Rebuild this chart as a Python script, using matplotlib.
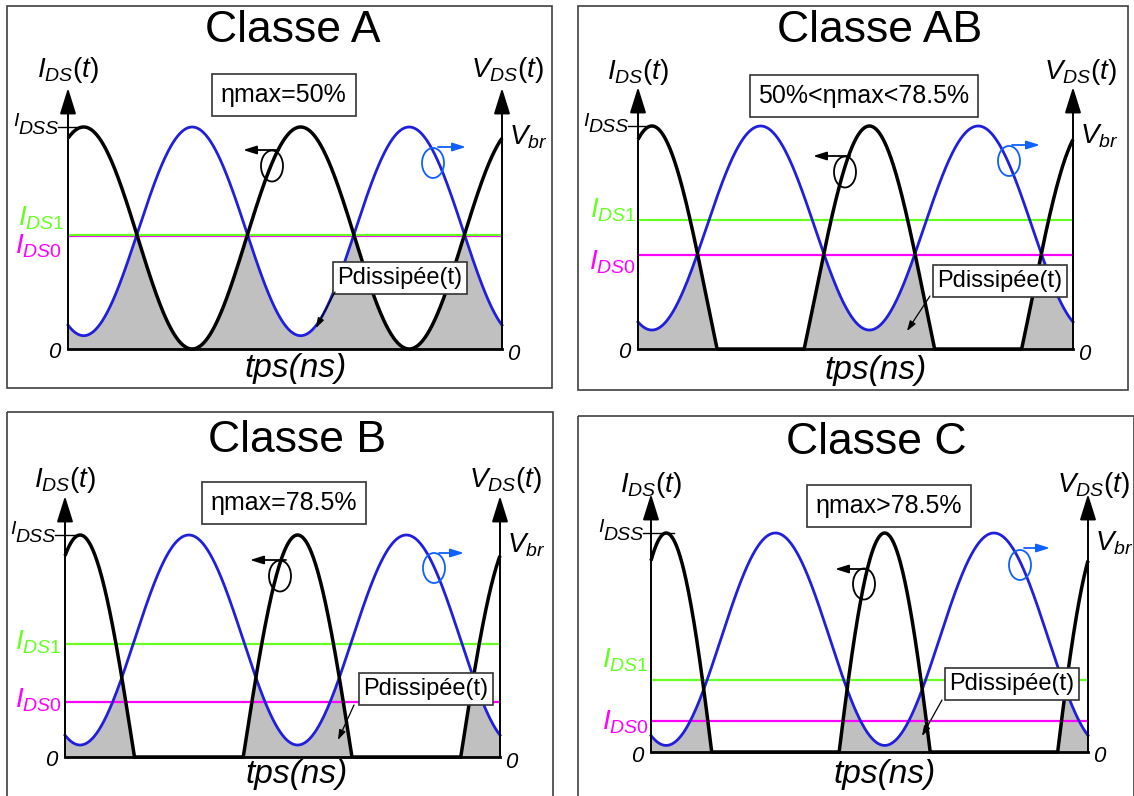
import matplotlib
matplotlib.use('Agg')
import matplotlib.pyplot as plt
from matplotlib.patches import Rectangle, Ellipse
import numpy as np

plt.rcParams['font.family'] = ['Liberation Sans', 'DejaVu Sans']
plt.rcParams['mathtext.fontset'] = 'custom'
plt.rcParams['mathtext.rm'] = 'Liberation Sans'
plt.rcParams['mathtext.it'] = 'Liberation Sans:italic'
plt.rcParams['mathtext.default'] = 'it'

W, H = 1134, 796

# one entry per amplifier class (levels normalised to I_DSS / V_br = 1)
titles = ['Classe A', 'Classe AB', 'Classe B', 'Classe C']
eta_text = ['ηmax=50%', '50%<ηmax<78.5%', 'ηmax=78.5%', 'ηmax>78.5%']
half_conduction_deg = [180, 108, 90, 75]
vds_min = [0.06, 0.085, 0.054, 0.03]
ids1_level = [0.515, 0.58, 0.51, 0.33]
ids0_level = [0.508, 0.42, 0.25, 0.14]
phase_deg = [26, 23, 25, 25]
t_deg = np.linspace(0, 720, 1441)

BLUE = '#1f1fdd'
BLUE2 = '#1060ff'
GREEN = '#66ff22'
MAGENTA = '#ff00ff'
FILL = '#c0c0c0'

# layout in image pixels
frames = [(7, 6, 552, 388), (578, 6, 1128, 390), (7, 412, 553, 800), (578, 416, 1134, 800)]
plots = [(68, 502, 349, 127), (638, 1073, 349, 126), (65, 500, 757, 535), (651, 1088, 752, 533)]
title_pos = [(293, 31), (880, 31), (297, 440), (876, 443)]
eta_pos = [(284, 95), (864, 96), (284, 503), (889, 506)]
pdis_pos = [(400, 278), (1000, 281), (426, 689), (1012, 684)]
pdis_arrow = [((335, 292), (316, 328)), ((930, 296), (907, 331)),
              ((354, 705), (338, 740)), ((942, 700), (922, 736))]
i_ell = [(272, 166), (845, 172), (280, 576), (864, 584)]
i_arr = [((279, 150), (243, 150)), ((850, 156), (813, 156)),
         ((286, 560), (250, 560)), ((868, 569), (835, 569))]
v_ell = [(433, 163), (1009, 161), (434, 568), (1020, 565)]
v_arr = [((438, 147), (466, 147)), ((1012, 145), (1040, 145)),
         ((439, 553), (464, 553)), ((1024, 548), (1050, 548))]
tps_pos = [(296, 368), (876, 370), (297, 775), (885, 775)]
ids_lbl = [(68, 70), (638, 72), (65, 480), (651, 485)]
vds_lbl = [(507, 70), (1080, 72), (505, 480), (1093, 485)]
idss_tick = [(58, 78), (628, 648), (55, 80), (643, 674)]
ids1_lbl = [(65, 218), (637, 210), (62, 642), (649, 660)]
ids0_lbl = [(62, 246), (636, 262), (62, 700), (649, 722)]

fig = plt.figure(figsize=(W / 100, H / 100), dpi=100)
fig.patch.set_facecolor('white')

for k in range(4):
    x0, x1, yb, yt = plots[k]
    ax = fig.add_axes([x0 / W, 1 - yb / H, (x1 - x0) / W, (yb - yt) / H])
    ax.set_xlim(0, 720)
    ax.set_ylim(0, 1)
    ax.axis('off')

    theta = np.radians(t_deg - phase_deg[k])
    cphi = np.cos(np.radians(half_conduction_deg[k]))
    i_ds = np.clip((np.cos(theta) - cphi) / (1 - cphi), 0, None)
    v_ds = vds_min[k] + (1 - vds_min[k]) * (1 - np.cos(theta)) / 2

    ax.fill_between(t_deg, 0, np.minimum(i_ds, v_ds), color=FILL, lw=0)
    ax.axhline(ids0_level[k], color=MAGENTA, lw=1.6)
    ax.axhline(ids1_level[k], color=GREEN, lw=1.6)
    ax.plot(t_deg, v_ds, color=BLUE, lw=2, clip_on=False)
    ax.plot(t_deg, i_ds, color='black', lw=2.5, clip_on=False, solid_capstyle='butt')

# overlay in pixel coordinates
ov = fig.add_axes([0, 0, 1, 1])
ov.set_xlim(0, W)
ov.set_ylim(H, 0)
ov.axis('off')

for k in range(4):
    fx0, fy0, fx1, fy1 = frames[k]
    ov.add_patch(Rectangle((fx0, fy0), fx1 - fx0, fy1 - fy0, fill=False,
                           edgecolor='#404040', lw=1.2))
    x0, x1, yb, yt = plots[k]
    tip = yt - 39

    # axes
    ov.plot([x0, x1], [yb, yb], color='black', lw=2)
    for xa in (x0, x1):
        ov.annotate('', xy=(xa, tip), xytext=(xa, yb),
                    arrowprops=dict(arrowstyle='-|>,head_length=1.6,head_width=0.5',
                                    color='black', lw=1.4, shrinkA=0, shrinkB=0))
    ov.plot(idss_tick[k], [yt, yt], color='black', lw=1)

    ov.text(*title_pos[k], titles[k], fontsize=32, ha='center', va='center')
    ov.text(*ids_lbl[k], r'$\mathit{I_{DS}(t)}$', fontsize=20, ha='center', va='center')
    ov.text(*vds_lbl[k], r'$\mathit{V_{DS}(t)}$', fontsize=20, ha='center', va='center')
    # I_DSS label: small raised I followed by DSS
    xr = idss_tick[k][0] + 1
    ov.text(xr, yt + 2, 'DSS', fontsize=14, style='italic', ha='right', va='center')
    ov.text(xr - 40, yt - 5, 'I', fontsize=14, style='italic', ha='right', va='center')
    ov.text(x1 + 7, yt + 10, r'$\mathit{V_{br}}$', fontsize=20, ha='left', va='center')
    ov.text(*ids1_lbl[k], r'$\mathit{I_{DS1}}$', fontsize=20, ha='right', va='center', color=GREEN)
    ov.text(*ids0_lbl[k], r'$\mathit{I_{DS0}}$', fontsize=20, ha='right', va='center', color=MAGENTA)
    ov.text(x0 - 8, yb + 4, '0', fontsize=16, style='italic', ha='right', va='center')
    ov.text(x1 + 5, yb + 5, '0', fontsize=16, style='italic', ha='left', va='center')
    ov.text(*tps_pos[k], 'tps(ns)', fontsize=24, style='italic', ha='center', va='center')

    ov.text(*eta_pos[k], eta_text[k], fontsize=18, ha='center', va='center',
            bbox=dict(boxstyle='square,pad=0.35', fc='white', ec='#333333', lw=1.2))
    ov.text(*pdis_pos[k], 'Pdissipée(t)', fontsize=17, ha='center', va='center',
            bbox=dict(boxstyle='square,pad=0.2', fc='white', ec='#333333', lw=1.2))
    (sx, sy), (ex, ey) = pdis_arrow[k]
    ov.annotate('', xy=(ex, ey), xytext=(sx, sy),
                arrowprops=dict(arrowstyle='-|>,head_length=0.6,head_width=0.2',
                                color='black', lw=0.9, shrinkA=0, shrinkB=0))

    ov.add_patch(Ellipse(i_ell[k], 22, 31, fill=False, edgecolor='black', lw=1.3))
    (sx, sy), (ex, ey) = i_arr[k]
    ov.annotate('', xy=(ex, ey), xytext=(sx, sy),
                arrowprops=dict(arrowstyle='-|>,head_length=0.8,head_width=0.25',
                                color='black', lw=1.3, shrinkA=0, shrinkB=0))
    ov.add_patch(Ellipse(v_ell[k], 22, 30, fill=False, edgecolor=BLUE2, lw=1.3))
    (sx, sy), (ex, ey) = v_arr[k]
    ov.annotate('', xy=(ex, ey), xytext=(sx, sy),
                arrowprops=dict(arrowstyle='-|>,head_length=0.8,head_width=0.25',
                                color=BLUE2, lw=1.3, shrinkA=0, shrinkB=0))

fig.savefig('out.png', dpi=100)
